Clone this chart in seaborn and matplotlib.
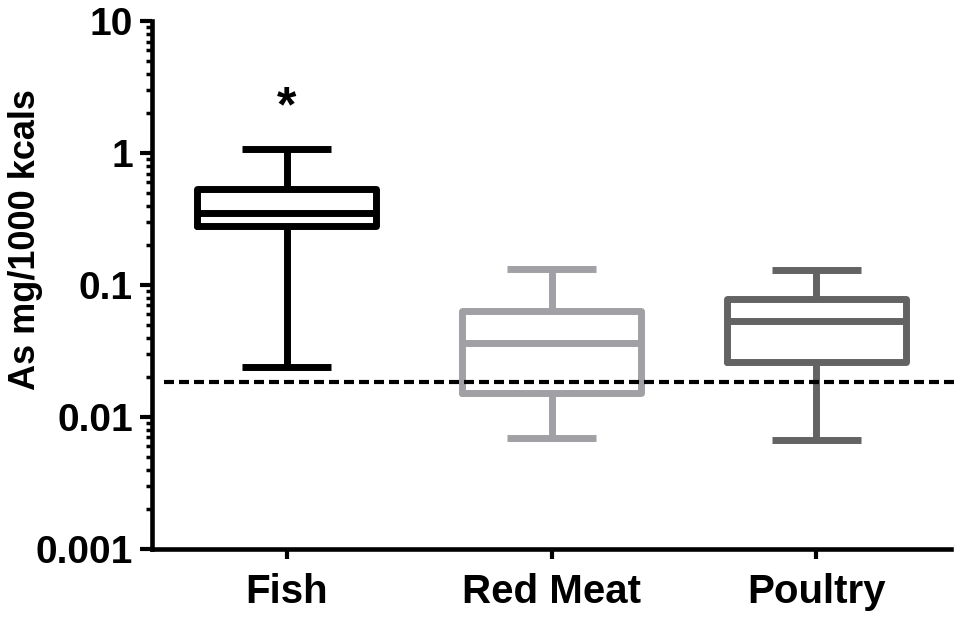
import numpy as np
import pandas as pd
import matplotlib
matplotlib.use('Agg')
import matplotlib.pyplot as plt
import matplotlib.ticker as mticker
import seaborn as sns

# categories and box stats (min, q1, median, q3, max)
foods = ['Fish', 'Red Meat', 'Poultry']
fish = [0.024, 0.28, 0.35, 0.53, 1.08]
red_meat = [0.0069, 0.0152, 0.0364, 0.0635, 0.132]
poultry = [0.0067, 0.0261, 0.0533, 0.0783, 0.13]
box_colors = ['#000000', '#a1a1a5', '#636363']
ref_line = 0.0184   # dashed reference level
star_y = 2.2        # where the '*' sits above Fish

y_ticks = [0.001, 0.01, 0.1, 1, 10]
y_tick_labels = ['0.001', '0.01', '0.1', '1', '10']

df = pd.DataFrame({'food': np.repeat(foods, 5),
                   'value': fish + red_meat + poultry})

sns.set_style('ticks', {'text.color': 'black', 'axes.labelcolor': 'black',
                        'xtick.color': 'black', 'ytick.color': 'black',
                        'axes.edgecolor': 'black'})
plt.rcParams['font.family'] = ['Liberation Sans', 'DejaVu Sans']
plt.rcParams['font.weight'] = 'bold'

fig = plt.figure(figsize=(9.6, 6.21), dpi=100)
ax = fig.add_axes([0.158, 0.116, 0.833, 0.850])

sns.boxplot(data=df, x='food', y='value', hue='food', order=foods, hue_order=foods,
            palette=box_colors, fill=False, whis=(0, 100), width=0.675,
            linewidth=5, log_scale=True, legend=False, ax=ax,
            boxprops=dict(solid_joinstyle='round'),
            whiskerprops=dict(solid_capstyle='butt'),
            capprops=dict(solid_capstyle='butt'),
            medianprops=dict(solid_capstyle='butt'))

# dashed reference line
ax.axhline(ref_line, xmin=0.016, xmax=1.005, color='black', lw=3,
           ls=(0, (2.4, 1.2)), clip_on=False)

# significance mark
ax.text(0, star_y, '*', ha='center', va='center', fontsize=36,
        fontweight='bold', color='black')

ax.set_ylim(0.001, 10)
ax.set_xlim(-0.51, 2.51)
ax.yaxis.set_major_locator(mticker.FixedLocator(y_ticks))
ax.yaxis.set_major_formatter(mticker.FixedFormatter(y_tick_labels))
ax.yaxis.set_minor_locator(mticker.LogLocator(base=10, subs=np.arange(2, 10)))
ax.yaxis.set_minor_formatter(mticker.NullFormatter())

ax.tick_params(axis='y', which='major', length=8.5, width=3, labelsize=28, pad=5)
ax.tick_params(axis='y', which='minor', length=4.5, width=2.5)
ax.tick_params(axis='x', which='major', length=7, width=3, labelsize=29, pad=10)

ax.set_xlabel('')
ax.set_ylabel('As mg/1000 kcals', fontsize=26, fontweight='bold')
ax.yaxis.set_label_coords(-0.136, 0.587)

for s in ['top', 'right']:
    ax.spines[s].set_visible(False)
for s in ['left', 'bottom']:
    ax.spines[s].set_linewidth(3.3)

fig.savefig('out.png', dpi=100)
